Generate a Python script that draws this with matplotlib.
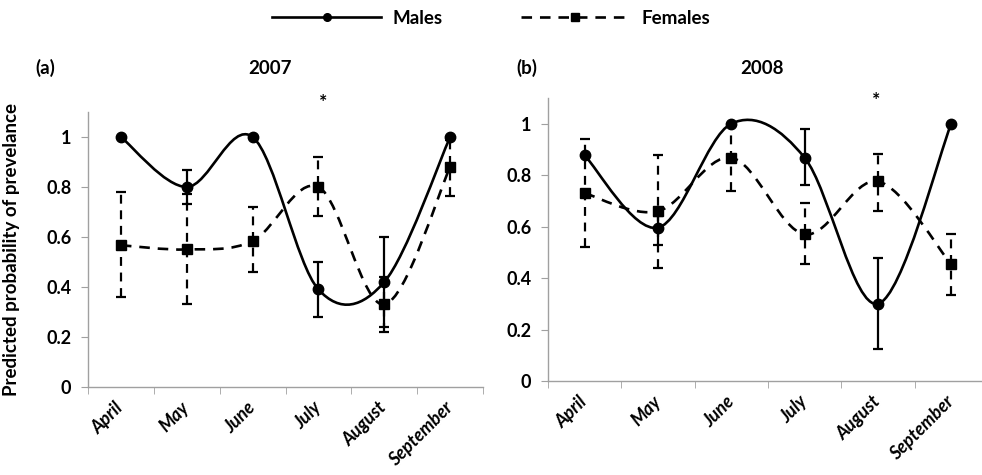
import numpy as np
import matplotlib
matplotlib.use("Agg")
import matplotlib.pyplot as plt
from matplotlib.path import Path
from matplotlib.patches import PathPatch
from matplotlib.lines import Line2D

plt.rcParams['font.family'] = ['Lato', 'DejaVu Sans']

months = ["April", "May", "June", "July", "August", "September"]

male_2007 = [1.0, 0.80, 1.0, 0.39, 0.42, 1.0]
male_2007_lo = [np.nan, 0.73, np.nan, 0.28, 0.24, np.nan]
male_2007_hi = [np.nan, 0.87, np.nan, 0.50, 0.60, np.nan]
female_2007 = [0.567, 0.55, 0.584, 0.80, 0.33, 0.88]
female_2007_lo = [0.36, 0.33, 0.46, 0.684, 0.22, 0.763]
female_2007_hi = [0.78, 0.77, 0.72, 0.92, 0.44, 0.99]

male_2008 = [0.877, 0.596, 1.0, 0.868, 0.30, 1.0]
male_2008_lo = [np.nan, 0.53, np.nan, 0.76, 0.123, np.nan]
male_2008_hi = [np.nan, 0.64, np.nan, 0.98, 0.48, np.nan]
female_2008 = [0.73, 0.66, 0.868, 0.57, 0.776, 0.453]
female_2008_lo = [0.52, 0.44, 0.74, 0.454, 0.66, 0.334]
female_2008_hi = [0.94, 0.877, 1.0, 0.69, 0.884, 0.573]

sig_2007 = "July"
sig_2008 = "August"

DASH = (0, (4, 3))


def smooth_path(x, y):
    """Excel-like smoothed line (Catmull-Rom as cubic Bezier)."""
    pts = np.column_stack([x, y]).astype(float)
    n = len(pts)
    verts = [pts[0]]
    codes = [Path.MOVETO]
    for i in range(n - 1):
        p0 = pts[i - 1] if i > 0 else pts[i]
        p1 = pts[i]
        p2 = pts[i + 1]
        p3 = pts[i + 2] if i + 2 < n else pts[i + 1]
        c1 = p1 + (p2 - p0) / 6.0
        c2 = p2 - (p3 - p1) / 6.0
        verts += [c1, c2, p2]
        codes += [Path.CURVE4] * 3
    return Path(verts, codes)


def draw_panel(ax, males, mlo, mhi, females, flo, fhi, sig, sig_dx, sig_y):
    x = np.arange(len(months))
    males = np.array(males); females = np.array(females)
    ax.add_patch(PathPatch(smooth_path(x, males), fill=False, edgecolor='black',
                           lw=1.9, capstyle='round', zorder=3))
    ax.add_patch(PathPatch(smooth_path(x, females), fill=False, edgecolor='black',
                           lw=1.9, linestyle=DASH, zorder=3))
    myerr = np.vstack([males - np.array(mlo), np.array(mhi) - males])
    ax.errorbar(x, males, yerr=myerr, fmt='none', ecolor='black',
                elinewidth=1.6, capsize=3.5, capthick=1.6, zorder=4)
    fyerr = np.vstack([females - np.array(flo), np.array(fhi) - females])
    eb = ax.errorbar(x, females, yerr=fyerr, fmt='none', ecolor='black',
                     elinewidth=1.6, capsize=3.5, capthick=1.6, zorder=4)
    eb[2][0].set_linestyle(DASH)
    ax.plot(x, males, 'o', color='black', ms=7.5, zorder=5)
    ax.plot(x, females, 's', color='black', ms=7.5, zorder=5)
    xi = months.index(sig)
    ax.text(xi + sig_dx, sig_y, "*", ha='center', va='center', fontsize=14,
            fontweight='bold', clip_on=False)

    ax.set_xlim(-0.5, len(months) - 0.5)
    ax.set_ylim(0, 1.1)
    ax.set_yticks([0, 0.2, 0.4, 0.6, 0.8, 1.0])
    ax.set_yticklabels(["0", "0.2", "0.4", "0.6", "0.8", "1"],
                       fontsize=13, fontweight='bold')
    ax.set_xticks(x)
    ax.set_xticklabels(months, rotation=45, ha='right', va='center',
                       rotation_mode='anchor', fontsize=13,
                       fontweight='bold', fontstyle='italic')
    ax.tick_params(axis='x', which='major', length=0, pad=13)
    ax.set_xticks(np.arange(-0.5, len(months)), minor=True)
    ax.tick_params(axis='x', which='minor', length=5, color='#a0a0a0',
                   direction='out')
    ax.tick_params(axis='y', length=5, color='#a0a0a0', pad=7)
    for s in ['top', 'right']:
        ax.spines[s].set_visible(False)
    for s in ['left', 'bottom']:
        ax.spines[s].set_color('#a0a0a0')
        ax.spines[s].set_linewidth(1.0)


fig = plt.figure(figsize=(9.82, 4.75), dpi=100)
ax1 = fig.add_axes([0.0896, 0.1853, 0.4023, 0.5789])
ax2 = fig.add_axes([0.558, 0.1979, 0.448, 0.5958])

draw_panel(ax1, male_2007, male_2007_lo, male_2007_hi,
           female_2007, female_2007_lo, female_2007_hi, sig_2007, 0.07, 1.14)
draw_panel(ax2, male_2008, male_2008_lo, male_2008_hi,
           female_2008, female_2008_lo, female_2008_hi, sig_2008, -0.03, 1.09)

ax1.set_ylabel("Predicted probability of prevelance", fontsize=13.5,
               fontweight='bold')
ax1.yaxis.set_label_coords(-0.172, 0.5)

for xp, s in [(45, "(a)"), (270, "2007"), (527, "(b)"), (762, "2008")]:
    fig.text(xp / 982, 1 - 68 / 475, s, ha='center', va='center',
             fontsize=13.5, fontweight='bold')

h1 = Line2D([], [], color='black', lw=1.9, marker='o', ms=5.5)
h2 = Line2D([], [], color='black', lw=1.9, linestyle=DASH, marker='s', ms=6)
leg = fig.legend([h1, h2], ["Males", "Females"], loc='center',
                 bbox_to_anchor=(0.5, 1 - 18 / 475), ncol=2, frameon=False,
                 handlelength=5.8, handletextpad=0.6, columnspacing=4.2,
                 numpoints=1, prop={'weight': 'bold', 'size': 13.5})

fig.savefig("out.png", dpi=100)
